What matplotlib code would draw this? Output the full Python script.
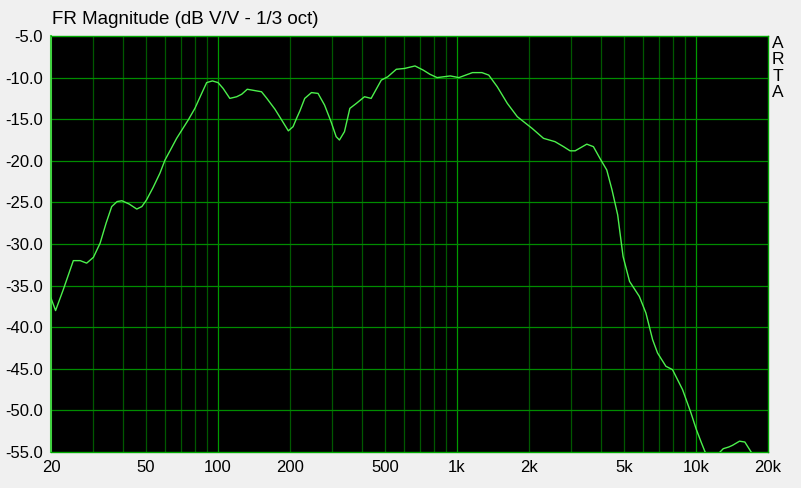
import matplotlib
matplotlib.use("Agg")
import matplotlib.pyplot as plt
from matplotlib.ticker import FixedLocator, NullFormatter

freq_hz = [20, 20.9, 22.5, 24.8, 26.5, 28.2, 30.1, 32.1, 34.0, 35.9, 37.8, 39.6, 42.5, 45.7,
           48.0, 50.2, 53.5, 57.1, 60.0, 63.2, 67.1, 75.0, 80.0, 85.4, 89.6, 94.7, 100, 105,
           112, 119.7, 125.6, 132.5, 145, 152, 160, 173, 184.6, 196.8, 206, 213, 220, 230.5,
           246, 262, 279, 297, 312, 322, 338, 356, 379, 410, 437, 482, 513, 557, 603, 667,
           722, 770, 825, 937, 1018, 1160, 1271, 1357, 1473, 1623, 1787, 2060, 2300, 2570,
           2790, 2970, 3120, 3490, 3720, 3960, 4230, 4450, 4700, 4950, 5270, 5790, 6170,
           6580, 6900, 7480, 7970, 8780, 9520, 10000, 10500, 10840, 11300, 11900, 12400,
           13000, 13700, 14200, 15200, 16000, 17000, 18000, 20000]
mag_db = [-36.5, -38.0, -35.5, -32.0, -32.0, -32.3, -31.6, -29.9, -27.5, -25.5, -24.9, -24.8,
          -25.2, -25.8, -25.5, -24.7, -23.2, -21.5, -19.9, -18.7, -17.3, -15.1, -13.7, -11.9,
          -10.6, -10.4, -10.6, -11.3, -12.5, -12.3, -12.0, -11.4, -11.6, -11.7, -12.5, -13.8,
          -15.1, -16.4, -15.9, -14.9, -14.0, -12.5, -11.8, -11.9, -13.3, -15.3, -17.1, -17.5,
          -16.5, -13.7, -13.1, -12.3, -12.5, -10.3, -9.9, -9.0, -8.9, -8.6, -9.1, -9.6, -10.0,
          -9.8, -10.0, -9.4, -9.4, -9.7, -11.1, -13.1, -14.7, -16.1, -17.3, -17.7, -18.3,
          -18.8, -18.8, -18.0, -18.3, -19.7, -21.1, -23.5, -26.5, -31.5, -34.5, -36.3,
          -38.3, -41.5, -43.1, -44.7, -45.1, -47.5, -50.3, -52.2, -53.8, -54.8, -56.0,
          -56.2, -55.2, -54.6, -54.4, -54.2, -53.7, -53.8, -55.0, -56.5, -58.0]

x_major = [100, 1000, 10000]
x_minor = [30, 40, 50, 60, 70, 80, 90, 200, 300, 400, 500, 600, 700, 800, 900,
           2000, 3000, 4000, 5000, 6000, 7000, 8000, 9000]
x_tick_vals = [20, 50, 100, 200, 500, 1000, 2000, 5000, 10000, 20000]
x_tick_labels = ["20", "50", "100", "200", "500", "1k", "2k", "5k", "10k", "20k"]
y_ticks = [-5, -10, -15, -20, -25, -30, -35, -40, -45, -50, -55]

plt.rcParams['font.family'] = ['Liberation Sans', 'DejaVu Sans']
fig = plt.figure(figsize=(8.01, 4.88), dpi=100, facecolor='#F0F0F0')
W, H = 801, 488
ax = fig.add_axes([51 / W, (H - 452) / H, (768 - 51) / W, (452 - 36) / H])
ax.set_facecolor('black')
ax.set_xscale('log')
ax.set_xlim(20, 20000)
ax.set_ylim(-55, -5)

for v in x_minor:
    ax.axvline(v, color='#005800', lw=0.9, zorder=1)
for v in x_major:
    ax.axvline(v, color='#009A00', lw=0.9, zorder=1)
for v in y_ticks[1:-1]:
    ax.axhline(v, color='#008C00', lw=0.9, zorder=1)

ax.plot(freq_hz, mag_db, color='#4CF04C', lw=1.0, zorder=3)

ax.xaxis.set_major_locator(FixedLocator(x_tick_vals))
ax.set_xticklabels(x_tick_labels)
ax.xaxis.set_minor_formatter(NullFormatter())
ax.xaxis.set_minor_locator(FixedLocator([]))
ax.set_yticks(y_ticks)
ax.set_yticklabels([f"{v:.1f}" for v in y_ticks])
ax.tick_params(axis='both', length=0, labelsize=12, colors='black', pad=6)
ax.tick_params(axis='x', pad=6)
for s in ax.spines.values():
    s.set_color('#00A800')
    s.set_linewidth(1.0)
ax.spines['left'].set_color('#40D040')
ax.spines['left'].set_linewidth(1.5)

fig.text(52 / W, 1 - 20 / H, "FR Magnitude (dB V/V - 1/3 oct)", fontsize=13.5,
         ha='left', va='center', color='black')
for i, ch in enumerate("ARTA"):
    fig.text(778 / W, 1 - (43 + i * 16.5) / H, ch, fontsize=12.5, ha='center',
             va='center', color='black')

fig.savefig("out.png", dpi=100, facecolor=fig.get_facecolor())
